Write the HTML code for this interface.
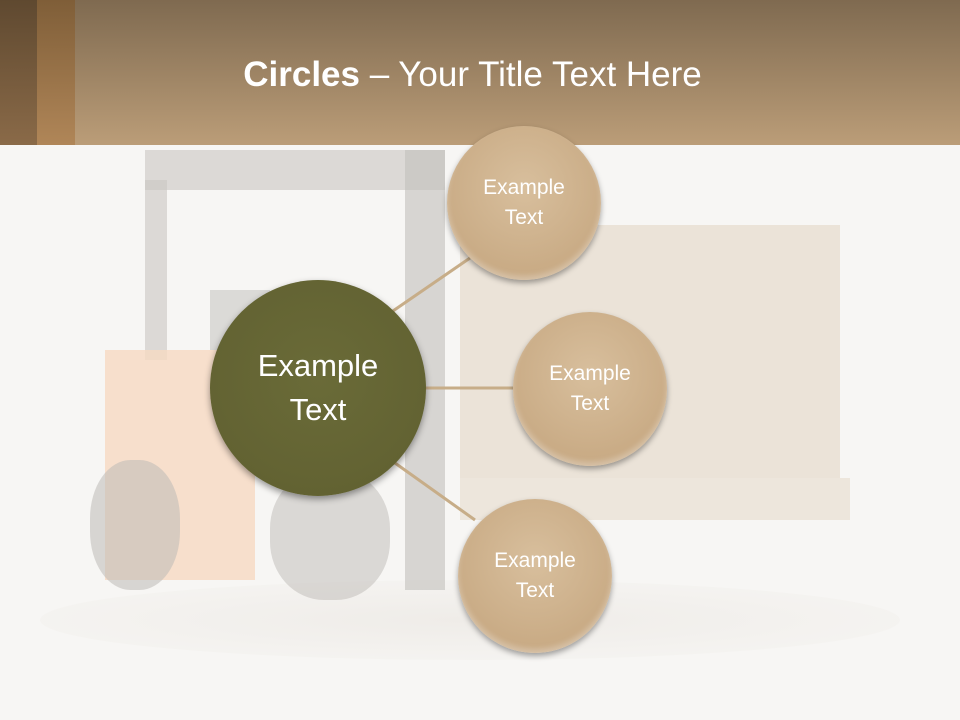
<!DOCTYPE html>
<html><head><meta charset="utf-8"><style>
body{margin:0;width:960px;height:720px;overflow:hidden;background:#f7f6f4;font-family:"Liberation Sans",sans-serif;position:relative}
.hdr{position:absolute;left:0;top:0;width:960px;height:145px;background:linear-gradient(#7f6a50,#bb9d78)}
.s1{position:absolute;left:0;top:0;width:37px;height:145px;background:linear-gradient(#5f4930,#8a6a48)}
.s2{position:absolute;left:37px;top:0;width:38px;height:145px;background:linear-gradient(#7f5e38,#b08658)}
.title{position:absolute;left:0;width:945px;top:55px;text-align:center;color:#fff;font-size:35px}
.c{position:absolute;border-radius:50%;display:flex;align-items:center;justify-content:center;text-align:center;color:#fff}
.sm{width:154px;height:154px;background:radial-gradient(circle at 50% 40%,#d8bf9d,#c9ab85 70%,#b89873);box-shadow:0 3px 6px rgba(0,0,0,.35),inset 0 -4px 6px rgba(255,255,255,.3);font-size:21px;line-height:30px}
.bg{position:absolute}
</style></head><body>
<div class="bg" style="left:40px;top:580px;width:860px;height:80px;border-radius:50%;background:radial-gradient(#efece8,rgba(247,246,244,0))"></div>
<div class="bg" style="left:145px;top:150px;width:300px;height:40px;background:#c9c6c2;opacity:.6"></div>
<div class="bg" style="left:145px;top:180px;width:22px;height:180px;background:#c9c6c2;opacity:.6"></div>
<div class="bg" style="left:405px;top:150px;width:40px;height:440px;background:#c2bfbb;opacity:.6"></div>
<div class="bg" style="left:460px;top:225px;width:380px;height:255px;background:#ebe3d8"></div>
<div class="bg" style="left:460px;top:478px;width:390px;height:42px;background:#ede6dc"></div>
<div class="bg" style="left:105px;top:350px;width:150px;height:230px;background:#f6dac2;opacity:.8"></div>
<div class="bg" style="left:90px;top:460px;width:90px;height:130px;border-radius:45%;background:#bdbab6;opacity:.55"></div>
<div class="bg" style="left:270px;top:470px;width:120px;height:130px;border-radius:45%;background:#bdbab6;opacity:.5"></div>
<div class="bg" style="left:210px;top:290px;width:60px;height:60px;background:#c0bdb9;opacity:.5"></div>
<div class="hdr"></div><div class="s1"></div><div class="s2"></div>
<div class="title"><b>Circles</b> – Your Title Text Here</div>
<svg style="position:absolute;left:0;top:0" width="960" height="720"><g stroke="#c7ad88" stroke-width="3">
<line x1="390" y1="313" x2="470" y2="258"/><line x1="426" y1="388" x2="514" y2="388"/><line x1="395" y1="463" x2="475" y2="520"/></g></svg>
<div class="c" style="left:210px;top:280px;width:216px;height:216px;background:radial-gradient(circle at 50% 45%,#6a6b38,#626232 75%,#55562a);box-shadow:0 3px 7px rgba(0,0,0,.4);font-size:31px;line-height:44px">Example<br>Text</div>
<div class="c sm" style="left:447px;top:126px">Example<br>Text</div>
<div class="c sm" style="left:513px;top:312px">Example<br>Text</div>
<div class="c sm" style="left:458px;top:499px">Example<br>Text</div>
</body></html>
